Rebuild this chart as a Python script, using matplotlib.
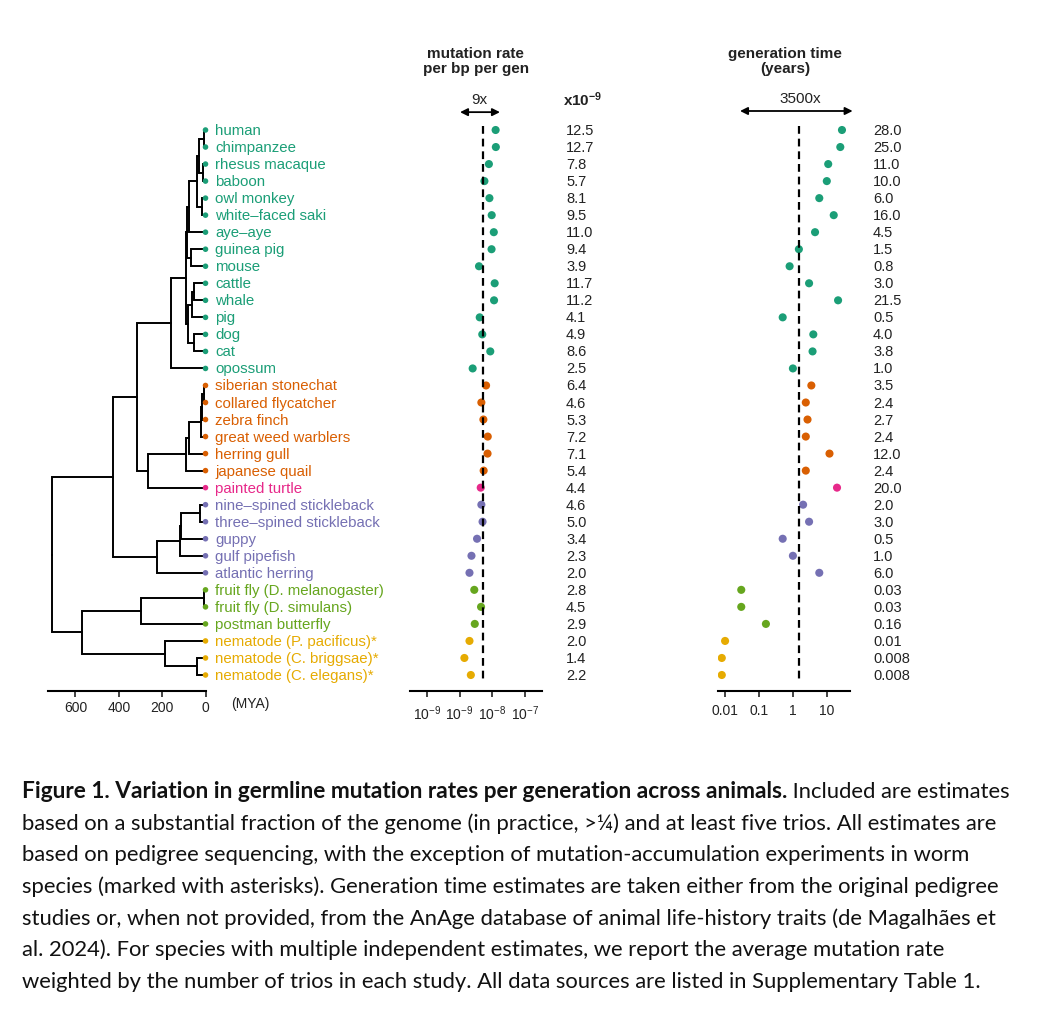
import numpy as np
import matplotlib.pyplot as plt
from matplotlib.transforms import blended_transform_factory, offset_copy

plt.rcParams['font.family'] = ['Liberation Sans', 'DejaVu Sans']
plt.rcParams['mathtext.fontset'] = 'custom'
plt.rcParams['mathtext.rm'] = 'Liberation Sans'
plt.rcParams['mathtext.bf'] = 'Liberation Sans:bold'

# ── dados ─────────────────────────────────────────────────────────
species = [
    'human', 'chimpanzee', 'rhesus macaque', 'baboon', 'owl monkey',
    'white–faced saki', 'aye–aye', 'guinea pig', 'mouse', 'cattle', 'whale',
    'pig', 'dog', 'cat', 'opossum',
    'siberian stonechat', 'collared flycatcher', 'zebra finch',
    'great weed warblers', 'herring gull', 'japanese quail',
    'painted turtle',
    'nine–spined stickleback', 'three–spined stickleback', 'guppy',
    'gulf pipefish', 'atlantic herring',
    'fruit fly (D. melanogaster)', 'fruit fly (D. simulans)',
    'postman butterfly',
    'nematode (P. pacificus)*', 'nematode (C. briggsae)*',
    'nematode (C. elegans)*',
]
groups = (['mammal'] * 15 + ['bird'] * 6 + ['reptile'] + ['fish'] * 5
          + ['insect'] * 3 + ['nematode'] * 3)
group_colors = {
    'mammal': '#1B9E77', 'bird': '#D95F02', 'reptile': '#E7298A',
    'fish': '#7570B3', 'insect': '#66A61E', 'nematode': '#E6AB02',
}

# mutation rate per bp per generation (x1e-9)
mu_rate = [12.5, 12.7, 7.8, 5.7, 8.1, 9.5, 11.0, 9.4, 3.9, 11.7, 11.2, 4.1,
           4.9, 8.6, 2.5, 6.4, 4.6, 5.3, 7.2, 7.1, 5.4, 4.4, 4.6, 5.0, 3.4,
           2.3, 2.0, 2.8, 4.5, 2.9, 2.0, 1.4, 2.2]
# generation time (years)
gen_time = [28.0, 25.0, 11.0, 10.0, 6.0, 16.0, 4.5, 1.5, 0.8, 3.0, 21.5, 0.5,
            4.0, 3.8, 1.0, 3.5, 2.4, 2.7, 2.4, 12.0, 2.4, 20.0, 2.0, 3.0, 0.5,
            1.0, 6.0, 0.03, 0.03, 0.16, 0.01, 0.008, 0.008]

# internal nodes of the tree: (node, child a, child b, age in MYA)
nodes = [
    ('hc', 'human', 'chimpanzee', 6),
    ('rb', 'rhesus macaque', 'baboon', 12),
    ('catarr', 'hc', 'rb', 29),
    ('platyr', 'owl monkey', 'white–faced saki', 18),
    ('anthr', 'catarr', 'platyr', 41),
    ('prim', 'anthr', 'aye–aye', 76),
    ('rod', 'guinea pig', 'mouse', 68),
    ('euarch', 'prim', 'rod', 87),
    ('cw', 'cattle', 'whale', 53),
    ('cetart', 'cw', 'pig', 62),
    ('carniv', 'dog', 'cat', 55),
    ('laur', 'cetart', 'carniv', 80),
    ('boreo', 'euarch', 'laur', 92),
    ('theria', 'boreo', 'opossum', 160),
    ('sf', 'siberian stonechat', 'collared flycatcher', 8),
    ('sfz', 'sf', 'zebra finch', 18),
    ('passer', 'sfz', 'great weed warblers', 22),
    ('neoav', 'passer', 'herring gull', 76),
    ('neog', 'neoav', 'japanese quail', 91),
    ('arch', 'neog', 'painted turtle', 264),
    ('amniota', 'theria', 'arch', 317),
    ('stk', 'nine–spined stickleback', 'three–spined stickleback', 25),
    ('stkg', 'stk', 'guppy', 112),
    ('percom', 'stkg', 'gulf pipefish', 117),
    ('teleo', 'percom', 'atlantic herring', 225),
    ('vert', 'amniota', 'teleo', 428),
    ('dros', 'fruit fly (D. melanogaster)', 'fruit fly (D. simulans)', 5),
    ('insect', 'dros', 'postman butterfly', 299),
    ('cel_cbr', 'nematode (C. briggsae)*', 'nematode (C. elegans)*', 41),
    ('nemat', 'nematode (P. pacificus)*', 'cel_cbr', 187),
    ('protost', 'insect', 'nemat', 571),
    ('root', 'vert', 'protost', 710),
]

mya_ticks = [600, 400, 200, 0]
mu_ticks = [1e-10, 1e-9, 1e-8, 1e-7]
mu_ticklabels = ['$10^{-9}$', '$10^{-9}$', '$10^{-8}$', '$10^{-7}$']
gen_ticks = [0.01, 0.1, 1, 10]
gen_ticklabels = ['0.01', '0.1', '1', '10']

caption_bold = ('Figure 1. Variation in germline mutation rates per '
                'generation across animals.')
caption_lines = [
    ' Included are estimates',
    'based on a substantial fraction of the genome (in practice, >¼) and at '
    'least five trios. All estimates are',
    'based on pedigree sequencing, with the exception of '
    'mutation-accumulation experiments in worm',
    'species (marked with asterisks). Generation time estimates are taken '
    'either from the original pedigree',
    'studies or, when not provided, from the AnAge database of animal '
    'life-history traits (de Magalhães et',
    'al. 2024). For species with multiple independent estimates, we report '
    'the average mutation rate',
    'weighted by the number of trios in each study. All data sources are '
    'listed in Supplementary Table 1.',
]

# ── figura ────────────────────────────────────────────────────────
W, H = 1039, 1012
fig = plt.figure(figsize=(W / 100, H / 100), dpi=100, facecolor='white')

bottom = 1 - 691.5 / H
height = 571.5 / H
ax_tree = fig.add_axes([48 / W, bottom, 157.5 / W, height])
ax_mu = fig.add_axes([410 / W, bottom, 131.7 / W, height])
ax_gen = fig.add_axes([718.3 / W, bottom, 131.7 / W, height])

rows = np.arange(len(species))
colors = [group_colors[g] for g in groups]
ylim = (32.91, -0.646)
TXT = '#222222'

for ax in (ax_tree, ax_mu, ax_gen):
    ax.set_ylim(*ylim)
    ax.set_yticks([])
    for s in ('top', 'right', 'left'):
        ax.spines[s].set_visible(False)
    ax.spines['bottom'].set_linewidth(1.5)
    ax.tick_params(axis='x', length=4, width=1.2, labelsize=10,
                   colors='#222222', pad=3)
    ax.patch.set_alpha(0)

# Árvore filogenética
ypos = {s: i for i, s in enumerate(species)}
xpos = {s: 0 for s in species}
for name, a, b, age in nodes:
    ynode = (ypos[a] + ypos[b]) / 2
    for c in (a, b):
        ax_tree.plot([xpos[c], age, age], [ypos[c], ypos[c], ynode],
                     color='black', lw=1.4, solid_joinstyle='miter',
                     clip_on=False)
    ypos[name] = ynode
    xpos[name] = age

ax_tree.scatter(np.zeros(len(species)), rows, s=16, c=colors, zorder=3,
                clip_on=False, linewidths=0)
lab_tr = offset_copy(ax_tree.transData, fig=fig, x=9.5, y=0, units='dots')
for i, sp in enumerate(species):
    ax_tree.text(0, i, sp, transform=lab_tr, color=colors[i], fontsize=10.8,
                 ha='left', va='center')
ax_tree.set_xlim(726.5, 0)
ax_tree.set_xticks(mya_ticks)
ax_tree.set_xticklabels([str(t) for t in mya_ticks])
ax_tree.text(250 / W, 1 - 704 / H, '(MYA)', transform=fig.transFigure,
             fontsize=10, color=TXT, ha='center', va='center')

# Taxa de mutação
mu = np.array(mu_rate) * 1e-9
ax_mu.set_xscale('log')
ax_mu.set_xlim(10 ** -10.51, 10 ** -6.50)
ax_mu.scatter(mu, rows, s=34, c=colors, linewidths=0, zorder=2)
ax_mu.plot([np.exp(np.log(mu).mean())] * 2, [-0.25, 32.4], color='black',
           lw=1.6, ls=(0, (3.5, 2.2)), zorder=3)
ax_mu.set_xticks(mu_ticks)
ax_mu.set_xticklabels(mu_ticklabels)
ax_mu.xaxis.set_minor_locator(plt.NullLocator())
ax_mu.tick_params(axis='x', pad=5)

# Tempo de geração
gt = np.array(gen_time)
ax_gen.set_xscale('log')
ax_gen.set_xlim(10 ** -2.20, 10 ** 1.684)
ax_gen.scatter(gt, rows, s=34, c=colors, linewidths=0, zorder=2)
ax_gen.plot([np.exp(np.log(gt).mean())] * 2, [-0.25, 32.4], color='black',
            lw=1.6, ls=(0, (3.5, 2.2)), zorder=3)
ax_gen.set_xticks(gen_ticks)
ax_gen.set_xticklabels(gen_ticklabels)
ax_gen.xaxis.set_minor_locator(plt.NullLocator())
ax_gen.tick_params(axis='x', pad=5)

# Colunas de valores
tr_mu = blended_transform_factory(ax_mu.transAxes, ax_mu.transData)
tr_gen = blended_transform_factory(ax_gen.transAxes, ax_gen.transData)
for i in rows:
    ax_mu.text(1.185, i, f'{mu_rate[i]:.1f}', transform=tr_mu, fontsize=10.5,
               color=TXT, ha='left', va='center')
    g = gen_time[i]
    ax_gen.text(1.175, i, f'{g:.1f}' if g >= 0.5 else f'{g:g}',
                transform=tr_gen, fontsize=10.5, color=TXT, ha='left',
                va='center')

# Títulos, fatores e setas
ax_mu.text(0.50, 1.102, 'mutation rate\nper bp per gen', transform=ax_mu.transAxes,
           ha='center', va='center', fontsize=11, fontweight='bold',
           color=TXT, linespacing=1.1)
ax_gen.text(0.506, 1.102, 'generation time\n(years)', transform=ax_gen.transAxes,
            ha='center', va='center', fontsize=11, fontweight='bold',
            color=TXT, linespacing=1.1)
ax_mu.text(0.53, 1.035, '9x', transform=ax_mu.transAxes, ha='center',
           va='center', fontsize=11, color=TXT)
ax_mu.text(1.314, 1.035, r'$\mathbf{x10^{-9}}$', transform=ax_mu.transAxes,
           ha='center', va='center', fontsize=11, color=TXT)
ax_gen.text(0.62, 1.037, '3500x', transform=ax_gen.transAxes, ha='center',
            va='center', fontsize=11, color=TXT)
arrow = dict(arrowstyle='<|-|>', color='black', lw=1.3, mutation_scale=11,
             shrinkA=0, shrinkB=0)
ax_mu.annotate('', xy=(0.38, 1.012), xytext=(0.683, 1.012),
               xycoords='axes fraction', arrowprops=arrow,
               annotation_clip=False)
ax_gen.annotate('', xy=(0.165, 1.014), xytext=(1.02, 1.014),
                xycoords='axes fraction', arrowprops=arrow,
                annotation_clip=False)

# Legenda da figura (tamanhos ajustados à largura das linhas do original)
cap_family = ['Lato', 'DejaVu Sans']
x0 = 22 / W
base = 798
step = 31.7
t_bold = fig.text(x0, 1 - base / H, caption_bold, family=cap_family,
                  fontweight='bold', fontsize=14, color='#111111',
                  va='baseline', ha='left')
t_ref = fig.text(x0, 1 - (base + step) / H, caption_lines[1],
                 family=cap_family, fontsize=14,
                 color='#111111', va='baseline', ha='left')
fig.canvas.draw()
t_bold.set_fontsize(14 * 771 / t_bold.get_window_extent().width)
reg_size = 14 * 979 / t_ref.get_window_extent().width
t_ref.remove()
fig.canvas.draw()
bb = t_bold.get_window_extent()
for k, line in enumerate(caption_lines):
    x = bb.x1 / W if k == 0 else x0
    fig.text(x, 1 - (base + k * step) / H, line, va='baseline', ha='left',
             family=cap_family, fontsize=reg_size, color='#111111')

plt.savefig('out.png', dpi=100, facecolor='white')
plt.close()
